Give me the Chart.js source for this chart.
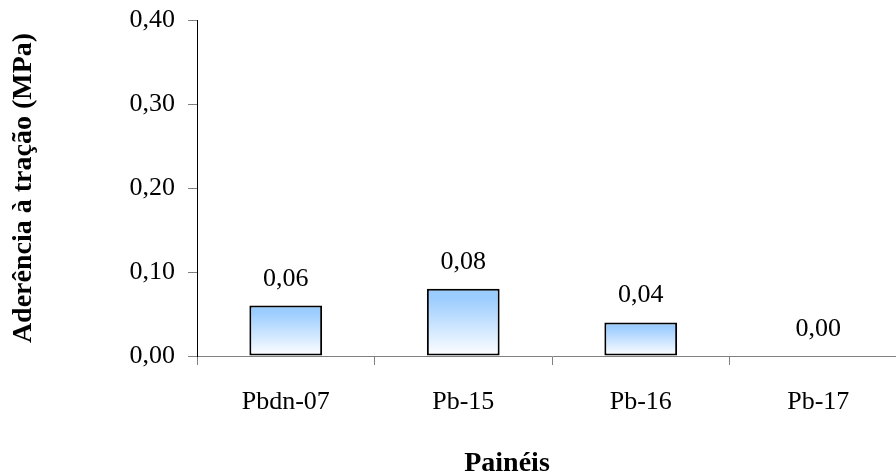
<!DOCTYPE html>
<html>
<head>
<meta charset="utf-8">
<script src="https://cdn.jsdelivr.net/npm/chart.js@4.4.1/dist/chart.umd.min.js"></script>
<style>
  html, body { margin: 0; padding: 0; background: #fff; overflow: hidden; }
  #wrap { position: absolute; left: 0; top: 0; width: 910px; height: 475px; }
</style>
</head>
<body>
<div id="wrap"><canvas id="c"></canvas></div>
<script>
const categories = ['Pbdn-07', 'Pb-15', 'Pb-16', 'Pb-17'];
const values = [0.06, 0.08, 0.04, 0.00];
const yTicks = [0, 0.1, 0.2, 0.3, 0.4];
const yTitle = 'Aderência à tração (MPa)';
const xTitle = 'Painéis';

const SERIF = "'Liberation Serif', 'Times New Roman', serif";
const fmt = v => v.toFixed(2).replace('.', ',');

const valueLabels = {
  id: 'valueLabels',
  afterDatasetsDraw(chart) {
    const ctx = chart.ctx;
    const meta = chart.getDatasetMeta(0);
    ctx.save();
    ctx.font = '26px ' + SERIF;
    ctx.fillStyle = '#000';
    ctx.textAlign = 'center';
    ctx.textBaseline = 'alphabetic';
    meta.data.forEach((bar, i) => {
      ctx.fillText(fmt(values[i]), bar.x, bar.y - 20);
    });
    ctx.restore();
  }
};

const xAxisTitle = {
  id: 'xAxisTitle',
  afterDraw(chart) {
    const ctx = chart.ctx;
    ctx.save();
    ctx.font = 'bold 28px ' + SERIF;
    ctx.fillStyle = '#000';
    ctx.textAlign = 'center';
    ctx.textBaseline = 'alphabetic';
    ctx.fillText(xTitle, 507, 471);
    ctx.restore();
  }
};

function barGradient(context) {
  const chart = context.chart;
  const area = chart.chartArea;
  if (!area) return '#99CCFF';
  const y = chart.scales.y;
  const v = context.raw;
  const top = y.getPixelForValue(v);
  const bot = y.getPixelForValue(0);
  if (Math.abs(bot - top) < 1) return '#99CCFF';
  const g = chart.ctx.createLinearGradient(0, top, 0, bot);
  g.addColorStop(0, '#99CCFF');
  g.addColorStop(0.15, '#9DCDFF');
  g.addColorStop(1, '#FFFFFF');
  return g;
}

new Chart(document.getElementById('c'), {
  type: 'bar',
  data: {
    labels: categories,
    datasets: [{
      data: values,
      backgroundColor: barGradient,
      borderColor: '#000',
      borderWidth: ctx => (ctx.raw === 0 ? 0 : 2),
      borderSkipped: false,
      barPercentage: 0.41,
      categoryPercentage: 1
    }]
  },
  options: {
    responsive: true,
    maintainAspectRatio: false,
    animation: false,
    layout: { padding: { top: 20, right: 3, left: 0, bottom: 0 } },
    plugins: { legend: { display: false }, tooltip: { enabled: false } },
    scales: {
      x: {
        grid: { display: true, drawOnChartArea: false, drawTicks: true, tickLength: 9, color: '#808080', offset: true },
        border: { display: true, color: '#808080', width: 1 },
        ticks: { color: '#000', font: { family: SERIF, size: 26 }, padding: 22, maxRotation: 0 },
        afterFit(scale) { scale.height = 119; scale.paddingLeft = 0; scale.paddingRight = 0; }
      },
      y: {
        min: 0, max: 0.4,
        afterBuildTicks(scale) { scale.ticks = yTicks.map(v => ({ value: v })); },
        grid: { display: true, drawOnChartArea: false, drawTicks: true, tickLength: 9, color: '#808080' },
        border: { display: true, color: '#000', width: 1 },
        ticks: { color: '#000', font: { family: SERIF, size: 26 }, padding: 13, callback: v => fmt(v) },
        title: { display: true, text: yTitle, color: '#000', font: { family: SERIF, size: 28, weight: 'bold' }, padding: { top: 7, bottom: 0 } },
        afterFit(scale) { scale.width = 197; scale.paddingTop = 0; scale.paddingBottom = 0; }
      }
    }
  },
  plugins: [valueLabels, xAxisTitle]
});
</script>
</body>
</html>
